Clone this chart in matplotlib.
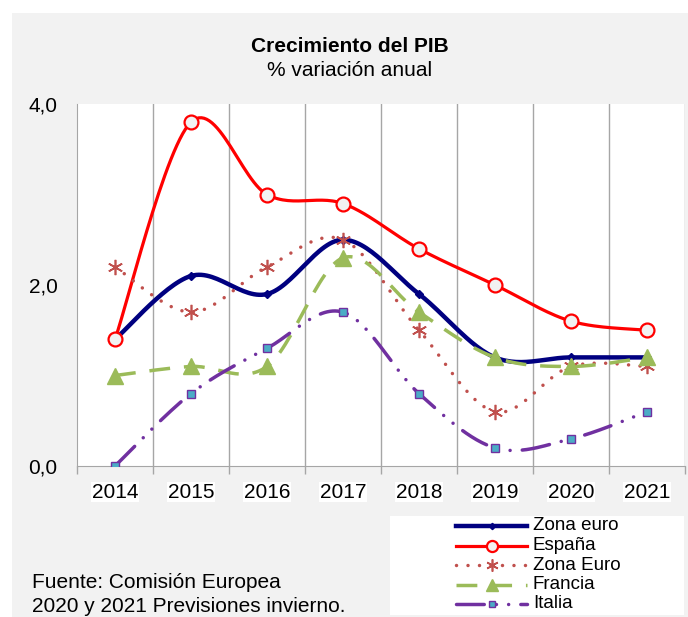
import numpy as np
import matplotlib
matplotlib.use("Agg")
import matplotlib.pyplot as plt
from matplotlib.patches import Rectangle
from matplotlib.lines import Line2D

plt.rcParams['font.family'] = ['Liberation Sans', 'DejaVu Sans']

years = ['2014', '2015', '2016', '2017', '2018', '2019', '2020', '2021']
zona_euro = [1.4, 2.1, 1.9, 2.5, 1.9, 1.2, 1.2, 1.2]
espana = [1.4, 3.8, 3.0, 2.9, 2.4, 2.0, 1.6, 1.5]
zona_euro_prev = [2.2, 1.7, 2.2, 2.5, 1.5, 0.6, 1.1, 1.1]
francia = [1.0, 1.1, 1.1, 2.3, 1.7, 1.2, 1.1, 1.2]
italia = [0.0, 0.8, 1.3, 1.7, 0.8, 0.2, 0.3, 0.6]


def smooth(x, y, n=30):
    # Excel-style smoothed line: Catmull-Rom bezier segments
    p = np.column_stack([x, y]).astype(float)
    out = []
    for i in range(len(p) - 1):
        p0 = p[i - 1] if i > 0 else p[i]
        p1, p2 = p[i], p[i + 1]
        p3 = p[i + 2] if i + 2 < len(p) else p[i + 1]
        c1 = p1 + (p2 - p0) / 6
        c2 = p2 - (p3 - p1) / 6
        t = np.linspace(0, 1, n)[:, None]
        seg = ((1 - t) ** 3 * p1 + 3 * (1 - t) ** 2 * t * c1
               + 3 * (1 - t) * t ** 2 * c2 + t ** 3 * p2)
        out.append(seg if i == 0 else seg[1:])
    s = np.vstack(out)
    return s[:, 0], s[:, 1]


W, H = 688, 617
fig = plt.figure(figsize=(W / 100, H / 100), dpi=100, facecolor='white')
fig.patches.append(Rectangle((12 / W, 0), 1, (H - 13) / H, transform=fig.transFigure,
                             facecolor='#f2f2f2', edgecolor='none', zorder=-10))

ax = fig.add_axes([77 / W, (H - 466) / H, 608 / W, 362 / H])
ax.set_facecolor('white')
x = np.arange(len(years))

series = [
    (zona_euro, 'Zona euro', dict(color='#000080', lw=3.2, ls='-'),
     dict(marker='D', ms=4, mfc='#000080', mec='#000080')),
    (espana, 'España', dict(color='#ff0000', lw=2.3, ls='-'),
     dict(marker='o', ms=10, mfc='#f2f2f2', mec='#ff0000', mew=1.6)),
    (zona_euro_prev, 'Zona Euro', dict(color='#c0504d', lw=2.5, ls=(0, (0.01, 3.3)),
                                       dash_capstyle='round'),
     dict(marker=(6, 2, 0), ms=11, mfc='#c0504d', mec='#c0504d', mew=1.2)),
    (francia, 'Francia', dict(color='#9bbb59', lw=2.5, ls=(0, (6, 4))),
     dict(marker='^', ms=11, mfc='#9bbb59', mec='#9bbb59')),
    (italia, 'Italia', dict(color='#7030a0', lw=2.5, ls=(0, (8, 3.5, 0.01, 3.5, 0.01, 3.5)),
                            dash_capstyle='round'),
     dict(marker='s', ms=6, mfc='#4bacc6', mec='#7030a0', mew=1.0)),
]

for vals, name, lstyle, mstyle in series:
    sx, sy = smooth(x, vals)
    ax.plot(sx, sy, zorder=3, **lstyle)
    ax.plot(x, vals, ls='none', zorder=4, **mstyle)

ax.set_xlim(-0.5, len(years) - 0.5)
ax.set_ylim(0, 4)
ax.set_yticks([0, 2, 4])
ax.set_yticklabels(['0,0', '2,0', '4,0'], fontsize=15)
ax.tick_params(axis='y', length=0, pad=14)
ax.set_xticks(np.arange(-0.5, len(years)))
ax.set_xticklabels([])
ax.tick_params(axis='x', length=6, color='#a6a6a6', width=1)
for i, yr in enumerate(years):
    ax.text(i, -0.29, yr, ha='center', va='center', fontsize=15,
            bbox=dict(facecolor='white', edgecolor='none', pad=0.5))
for b in np.arange(0.5, len(years)):
    ax.axvline(b, color='#a6a6a6', lw=1, zorder=1)
for side in ['top', 'right']:
    ax.spines[side].set_visible(False)
for side in ['left', 'bottom']:
    ax.spines[side].set_color('#a6a6a6')

fig.text(350 / W, 1 - 46 / H, 'Crecimiento del PIB', ha='center', va='center',
         fontsize=15, fontweight='bold')
fig.text(350 / W, 1 - 71 / H, '% variación anual', ha='center', va='center', fontsize=15)

fig.text(32 / W, 1 - 583 / H, 'Fuente: Comisión Europea', ha='left', va='center', fontsize=15)
fig.text(32 / W, 1 - 606 / H, '2020 y 2021 Previsiones invierno.', ha='left', va='center',
         fontsize=15)

# legend box drawn by hand
fig.patches.append(Rectangle((390 / W, 2 / H), 294 / W, 99 / H, transform=fig.transFigure,
                             facecolor='white', edgecolor='none', zorder=-5))
row_y = [526, 545.5, 565, 584.5, 604]
for (vals, name, lstyle, mstyle), ry in zip(series, row_y):
    yy = 1 - ry / H
    fig.add_artist(Line2D([456 / W, 527 / W], [yy, yy], transform=fig.transFigure, **lstyle))
    small = dict(mstyle, ms=mstyle['ms'] * 0.8)
    fig.add_artist(Line2D([491.5 / W], [yy], transform=fig.transFigure, ls='none', **small))
    fig.text(533 / W, yy, name, ha='left', va='center', fontsize=13.5)

fig.savefig('out.png', dpi=100, facecolor=fig.get_facecolor())
